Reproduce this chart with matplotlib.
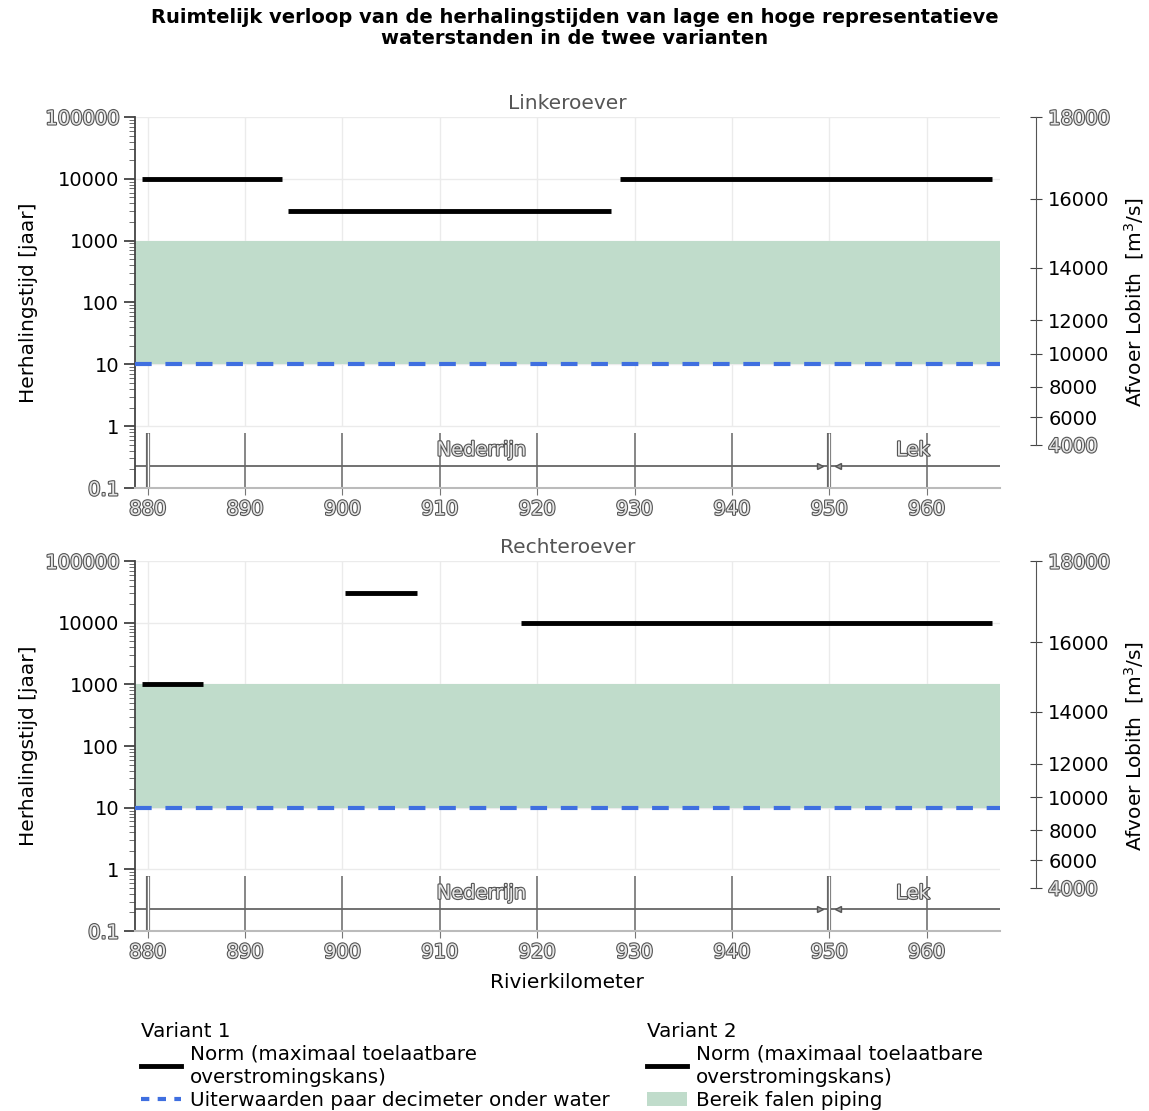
import matplotlib
matplotlib.use("Agg")
import matplotlib.pyplot as plt
import matplotlib.patheffects as pe
from matplotlib.lines import Line2D
from matplotlib.patches import Patch

# rivierkilometers
km_ticks = [880, 890, 900, 910, 920, 930, 940, 950, 960]
km_min, km_max = 878.7, 967.5

# normtrajecten (start, eind, herhalingstijd)
links_start = [879.4, 894.4, 928.5]
links_end = [893.8, 927.6, 966.7]
links_norm = [10000, 3000, 10000]

rechts_start = [879.4, 900.3, 918.3]
rechts_end = [885.7, 907.7, 966.7]
rechts_norm = [1000, 30000, 10000]

piping_low, piping_high = 10, 1000
uiterwaarden = 10

y_ticks = [0.1, 1, 10, 100, 1000, 10000, 100000]
y_labels = ['0.1', '1', '10', '100', '1000', '10000', '100000']

# afvoer Lobith en bijbehorende herhalingstijd (rechter as)
afvoer = [4000, 6000, 8000, 10000, 12000, 14000, 16000, 18000]
afvoer_T = [0.5, 1.4, 4.3, 14.7, 52, 363, 4800, 100000]

rivieren = ['Nederrijn', 'Lek']
rivier_km = [914.3, 958.6]
splitsing_km = 950

GREEN = '#c0dccb'
BLUE = '#3f6fe0'
hollow = [pe.withStroke(linewidth=1.6, foreground='#555555')]

fig = plt.figure(figsize=(11.49, 11.11), dpi=100)
ax_top = fig.add_axes([0.1175, 0.5608, 0.7525, 0.3339])
ax_bot = fig.add_axes([0.1175, 0.1620, 0.7525, 0.3330])


def draw_panel(ax, title, starts, ends, norms, show_xlabel):
    ax.set_yscale('log')
    ax.set_xlim(km_min, km_max)
    ax.set_ylim(0.1, 100000)

    ax.axhspan(piping_low, piping_high, color=GREEN, lw=0, zorder=1)
    ax.axhline(uiterwaarden, color=BLUE, lw=3, dashes=(4, 3.3), zorder=3)
    ax.hlines(norms, starts, ends, color='black', lw=3.5, zorder=4)

    # grid
    for y in y_ticks[1:]:
        ax.axhline(y, color='#ebebeb', lw=1, zorder=0)
    ax.vlines(km_ticks, 1, 100000, color='#ebebeb', lw=1, zorder=0)

    # rivier-schema onderin
    ax.axhline(0.227, color='#666666', lw=1.3, zorder=2)
    ax.vlines(km_ticks, 0.1, 0.78, color='#666666', lw=1.1, zorder=2)
    for k in (880, 950):
        ax.vlines(k, 0.1, 0.78, color='#666666', lw=3, zorder=2)
        ax.vlines(k, 0.1, 0.78, color='white', lw=1, zorder=2)
    ax.plot([splitsing_km - 0.9], [0.227], marker='>', ms=5, color='#999999',
            mec='#555555', zorder=3)
    ax.plot([splitsing_km + 0.9], [0.227], marker='<', ms=5, color='#999999',
            mec='#555555', zorder=3)
    for name, k in zip(rivieren, rivier_km):
        t = ax.text(k, 0.41, name, ha='center', va='center', fontsize=14,
                    color='#e6e6e6', zorder=5)
        t.set_path_effects(hollow)

    ax.set_xticks(km_ticks)
    ax.set_yticks(y_ticks)
    ax.set_yticklabels(y_labels)
    ax.tick_params(axis='both', which='major', labelsize=14, colors='#333333',
                   labelcolor='black')
    ax.tick_params(axis='y', which='major', length=8, width=1.2)
    ax.tick_params(axis='y', which='minor', length=4, color='#555555')
    ax.tick_params(axis='x', length=5, color='#777777')
    for lab in ax.get_xticklabels():
        lab.set_color('#e6e6e6')
        lab.set_path_effects(hollow)
    ylabs = ax.get_yticklabels()
    for lab in (ylabs[0], ylabs[-1]):
        lab.set_color('#e6e6e6')
        lab.set_path_effects(hollow)

    for s in ('top', 'right'):
        ax.spines[s].set_visible(False)
    ax.spines['left'].set_color('#444444')
    ax.spines['left'].set_linewidth(1.3)
    ax.spines['bottom'].set_color('#bbbbbb')
    ax.spines['bottom'].set_linewidth(1.5)

    ax.set_title(title, fontsize=14.5, color='#555555', pad=6)
    ax.set_ylabel('Herhalingstijd [jaar]', fontsize=14.5, labelpad=5)
    if show_xlabel:
        ax.set_xlabel('Rivierkilometer', fontsize=14.5, labelpad=8)

    # rechter as: afvoer Lobith
    ax2 = ax.twinx()
    ax2.set_yscale('log')
    ax2.set_ylim(0.1, 100000)
    ax2.set_yticks(afvoer_T)
    ax2.set_yticklabels([str(a) for a in afvoer])
    ax2.minorticks_off()
    for s in ('top', 'left', 'bottom'):
        ax2.spines[s].set_visible(False)
    ax2.spines['right'].set_position(('outward', 26))
    ax2.spines['right'].set_bounds(afvoer_T[0], afvoer_T[-1])
    ax2.spines['right'].set_color('#555555')
    ax2.tick_params(axis='y', direction='inout', length=8, labelsize=14,
                    color='#444444', pad=5)
    rl = ax2.get_yticklabels()
    for lab in (rl[0], rl[-1]):
        lab.set_color('#e6e6e6')
        lab.set_path_effects(hollow)
    ax2.set_ylabel('Afvoer Lobith  [m$^3$/s]', fontsize=14.5, labelpad=9)


draw_panel(ax_top, 'Linkeroever', links_start, links_end, links_norm, False)
draw_panel(ax_bot, 'Rechteroever', rechts_start, rechts_end, rechts_norm, True)

fig.suptitle('Ruimtelijk verloop van de herhalingstijden van lage en hoge representatieve\n'
             'waterstanden in de twee varianten',
             fontsize=14, fontweight='bold', y=0.993, linespacing=1.15)

h1 = [Line2D([], [], color='black', lw=3.5),
      Line2D([], [], color=BLUE, lw=3, dashes=(2, 2))]
l1 = ['Norm (maximaal toelaatbare\noverstromingskans)',
      'Uiterwaarden paar decimeter onder water']
leg1 = fig.legend(h1, l1, title='Variant 1', loc='upper left',
                  bbox_to_anchor=(141 / 1149, 1 - 1022 / 1111), frameon=False,
                  fontsize=14.3, title_fontsize=14.3, alignment='left',
                  handlelength=2.0, handletextpad=0.45, borderpad=0,
                  borderaxespad=0, labelspacing=0.2)

h2 = [Line2D([], [], color='black', lw=3.5),
      Patch(facecolor=GREEN, edgecolor='none')]
l2 = ['Norm (maximaal toelaatbare\noverstromingskans)', 'Bereik falen piping']
leg2 = fig.legend(h2, l2, title='Variant 2', loc='upper left',
                  bbox_to_anchor=(647 / 1149, 1 - 1022 / 1111), frameon=False,
                  fontsize=14.3, title_fontsize=14.3, alignment='left',
                  handlelength=2.0, handletextpad=0.45, borderpad=0,
                  borderaxespad=0, labelspacing=0.2)
for leg in (leg1, leg2):
    for t in leg.get_texts():
        t.set_linespacing(1.25)

fig.savefig('out.png', dpi=100)
